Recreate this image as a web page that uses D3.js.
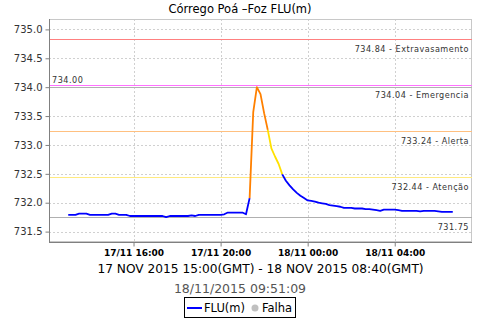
<!DOCTYPE html>
<html><head><meta charset="utf-8">
<script src="https://cdn.jsdelivr.net/npm/d3@7"></script>
<style>body{margin:0;background:#fff}svg{display:block}text{font-family:"DejaVu Sans",sans-serif}</style>
</head><body><svg id="c" width="480" height="320"></svg>
<script>
const title = "Córrego Poá –Foz FLU(m)";
const subtitle = "17 NOV 2015 15:00(GMT) - 18 NOV 2015 08:40(GMT)";
const stamp = "18/11/2015 09:51:09";
const startTime = "2015-11-17T13:00:00Z";
const stepMinutes = 10;
const values = [
 731.79,731.79,731.79,731.81,731.81,731.81,731.79,731.79,731.79,731.79,
 731.79,731.79,731.81,731.81,731.79,731.79,731.79,731.77,731.77,731.77,
 731.77,731.77,731.77,731.77,731.77,731.77,731.77,731.75,731.77,731.77,
 731.77,731.77,731.77,731.77,731.78,731.77,731.79,731.79,731.79,731.79,
 731.79,731.79,731.79,731.80,731.83,731.83,731.83,731.83,731.83,731.80,
 732.08,733.57,734.00,733.88,733.55,733.26,732.94,732.80,732.67,732.49,
 732.38,732.30,732.23,732.17,732.12,732.08,732.04,732.03,732.02,732.00,
 731.99,731.98,731.96,731.95,731.94,731.93,731.91,731.91,731.91,731.90,
 731.90,731.90,731.89,731.89,731.88,731.87,731.86,731.88,731.88,731.88,
 731.88,731.87,731.86,731.86,731.86,731.86,731.86,731.85,731.86,731.86,
 731.86,731.86,731.85,731.84,731.84,731.84,731.84
];
const thresholdValues = [734.84, 734.04, 733.24, 732.44];
const thresholdNames = ["Extravasamento", "Emergencia", "Alerta", "Atenção"];
const thresholdColors = ["#ff8080", "#ff70ff", "#ffc080", "#ffea80"];
const levelColors = ["#0000ff", "#ffe000", "#ff8000", "#ff00ff"];
const yTicks = [731.5, 732.0, 732.5, 733.0, 733.5, 734.0, 734.5, 735.0];
const yDomain = [731.32, 735.18];
const legendItems = ["FLU(m)", "Falha"];

const svg = d3.select("#c");
const L = 49, R = 472, T = 19, B = 242;
const t0 = new Date(startTime);
const data = values.map((v, i) => ({t: new Date(t0.getTime() + i*stepMinutes*60000), v}));
const tMin = data[0].t, tMax = data[data.length-1].t;
const pad = (tMax - tMin) * 0.05;
const x = d3.scaleUtc().domain([new Date(+tMin - pad), new Date(+tMax + pad)]).range([L, R]);
const y = d3.scaleLinear().domain(yDomain).range([B, T]);

svg.append("text").attr("x", 240).attr("y", 13).attr("text-anchor", "middle")
  .attr("font-size", 11.5).attr("fill", "#000").text(title);

const xTicks = x.ticks(d3.utcHour.every(4));
const grid = svg.append("g").attr("stroke", "#d0d0d0").attr("stroke-dasharray", "2,2")
  .attr("stroke-width", 1).attr("shape-rendering", "crispEdges");
grid.selectAll(".gx").data(xTicks).join("line")
  .attr("x1", d => Math.round(x(d))+0.5).attr("x2", d => Math.round(x(d))+0.5).attr("y1", T).attr("y2", B);
grid.selectAll(".gy").data(yTicks).join("line")
  .attr("y1", d => Math.round(y(d))+0.5).attr("y2", d => Math.round(y(d))+0.5).attr("x1", L).attr("x2", R);

svg.append("rect").attr("x", L+0.5).attr("y", T+0.5).attr("width", R-L-1).attr("height", B-T-1)
  .attr("fill", "none").attr("stroke", "#c8c8c8").attr("shape-rendering", "crispEdges");

const lblFont = "DejaVu Sans Condensed, DejaVu Sans, sans-serif";
const vMax = d3.max(values), vMin = d3.min(values);
const yMaxL = Math.round(y(vMax)) + 0.5, yMinL = Math.round(y(vMin)) + 0.5;
svg.append("line").attr("x1", L).attr("x2", R).attr("y1", yMaxL).attr("y2", yMaxL)
  .attr("stroke", "#b0b0b0").attr("shape-rendering", "crispEdges");
svg.append("line").attr("x1", L).attr("x2", R).attr("y1", yMinL).attr("y2", yMinL)
  .attr("stroke", "#b0b0b0").attr("shape-rendering", "crispEdges");
svg.append("text").attr("x", L+3).attr("y", yMaxL-5).attr("font-size", 9).attr("fill", "#333")
  .style("font-family", lblFont).attr("letter-spacing", 0.5).text(d3.format(".2f")(vMax));
svg.append("text").attr("x", R-3).attr("y", yMinL+12).attr("text-anchor", "end").attr("font-size", 9)
  .attr("fill", "#333").style("font-family", lblFont).attr("letter-spacing", 0.5).text(d3.format(".2f")(vMin));

thresholdValues.forEach((v, i) => {
  const yy = Math.round(y(v)) + 0.5;
  svg.append("line").attr("x1", L).attr("x2", R).attr("y1", yy).attr("y2", yy)
    .attr("stroke", thresholdColors[i]).attr("stroke-width", 1).attr("shape-rendering", "crispEdges");
  svg.append("text").attr("x", R-3).attr("y", yy+12).attr("text-anchor", "end")
    .attr("font-size", 9).attr("fill", "#333").style("font-family", lblFont).attr("letter-spacing", 0.5)
    .text(d3.format(".2f")(v) + " - " + thresholdNames[i]);
});

const yAxis = svg.append("g").attr("transform", `translate(${L+0.5},0)`)
  .call(d3.axisLeft(y).tickValues(yTicks).tickFormat(d3.format(".1f")).tickSize(4).tickPadding(3));
yAxis.select(".domain").attr("stroke", "#808080").attr("d", `M0,${T}V${B}`);
yAxis.selectAll(".tick line").attr("stroke", "#808080");
yAxis.selectAll("text").attr("font-size", 10).attr("fill", "#333").attr("font-family", "DejaVu Sans");

const xAxis = svg.append("g").attr("transform", `translate(0,${B+0.5})`)
  .call(d3.axisBottom(x).tickValues(xTicks).tickFormat(d3.utcFormat("%d/%m %H:%M")).tickSize(4).tickPadding(3));
xAxis.select(".domain").attr("stroke", "#808080").attr("d", `M${L},0H${R}`);
xAxis.selectAll(".tick line").attr("stroke", "#808080");
xAxis.selectAll("text").attr("font-size", 9).attr("fill", "#000").attr("font-weight", "bold")
  .attr("font-family", "DejaVu Sans");

function level(v) {
  let l = 0;
  for (let k = thresholdValues.length - 1; k >= 0; k--) if (v >= thresholdValues[k]) l = thresholdValues.length - k;
  return l;
}
const runs = [];
for (let i = 1; i < data.length; i++) {
  const c = levelColors[level(data[i].v)];
  if (runs.length && runs[runs.length-1].c === c) runs[runs.length-1].pts.push(data[i]);
  else runs.push({c, pts: [data[i-1], data[i]]});
}
const line = d3.line().x(d => x(d.t)).y(d => y(d.v));
svg.append("g").selectAll("path").data(runs).join("path")
  .attr("d", d => line(d.pts)).attr("fill", "none").attr("stroke", d => d.c)
  .attr("stroke-width", 1.8).attr("stroke-linejoin", "round");

svg.append("text").attr("x", 260.5).attr("y", 273).attr("text-anchor", "middle")
  .attr("font-size", 12.2).attr("fill", "#000").text(subtitle);
svg.append("text").attr("x", 240).attr("y", 293).attr("text-anchor", "middle")
  .attr("font-size", 12.5).attr("fill", "#555").text(stamp);

const lg = svg.append("g");
lg.append("rect").attr("x", 184.5).attr("y", 297.5).attr("width", 111).attr("height", 20)
  .attr("fill", "#fff").attr("stroke", "#000");
lg.append("line").attr("x1", 187).attr("x2", 202).attr("y1", 308).attr("y2", 308)
  .attr("stroke", levelColors[0]).attr("stroke-width", 2);
lg.append("text").attr("x", 204).attr("y", 312).attr("font-size", 11.5).text(legendItems[0]);
lg.append("circle").attr("cx", 255).attr("cy", 308).attr("r", 3.5).attr("fill", "#c0c0c0");
lg.append("text").attr("x", 262).attr("y", 312).attr("font-size", 11.5).text(legendItems[1]);
</script></body></html>
